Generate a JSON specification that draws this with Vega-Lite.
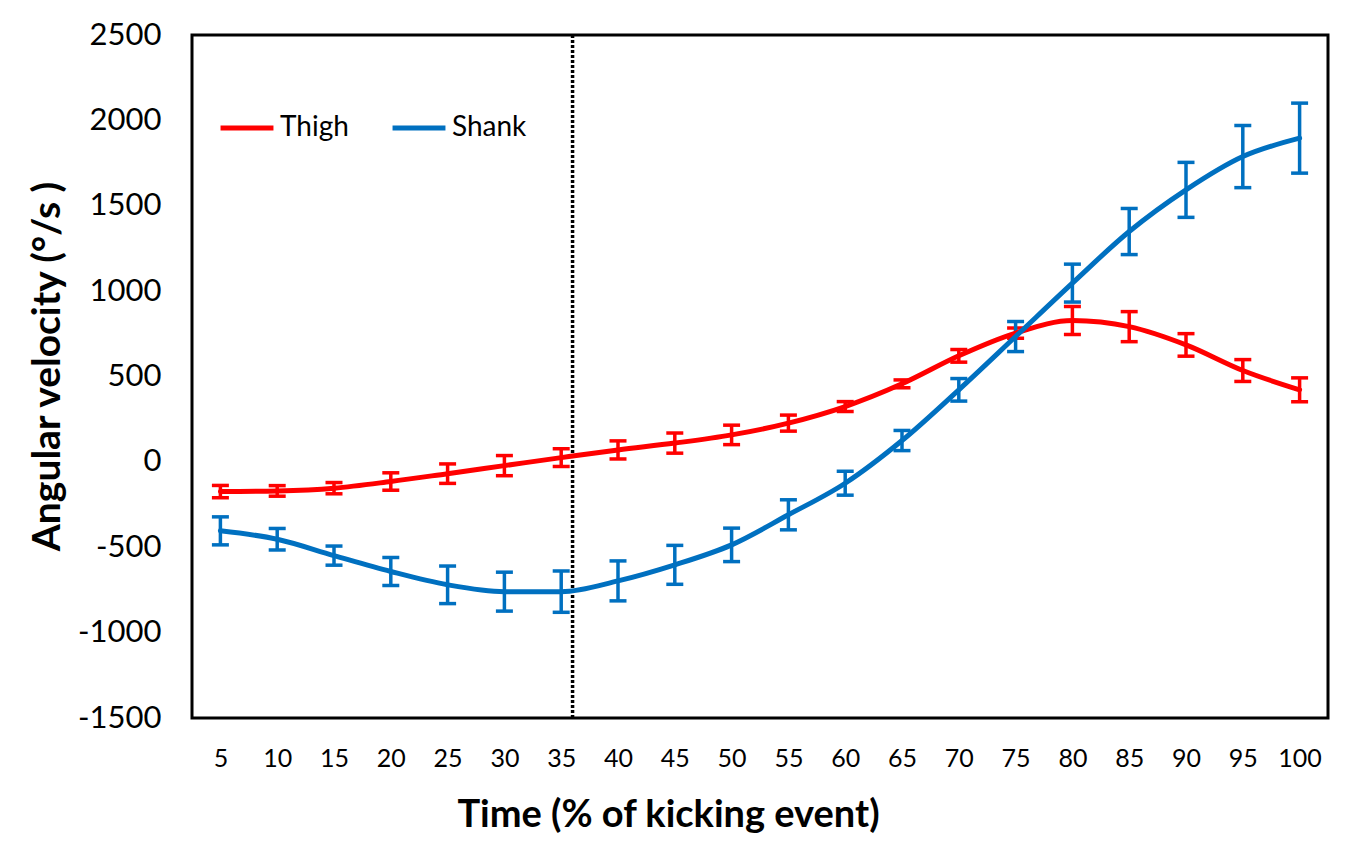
{
  "$schema": "https://vega.github.io/schema/vega-lite/v6.json",
  "width": 1136,
  "height": 683,
  "autosize": {"type": "none"},
  "padding": {"left": 192, "top": 35, "right": 21, "bottom": 129},
  "background": "white",
  "config": {
    "view": {"stroke": "black", "strokeWidth": 3},
    "font": "Lato"
  },
  "datasets": {
    "series": [
      {"time": 5, "segment": "Thigh", "velocity": -174, "sd": 36},
      {"time": 10, "segment": "Thigh", "velocity": -170, "sd": 31},
      {"time": 15, "segment": "Thigh", "velocity": -154, "sd": 33},
      {"time": 20, "segment": "Thigh", "velocity": -115, "sd": 51},
      {"time": 25, "segment": "Thigh", "velocity": -69, "sd": 57},
      {"time": 30, "segment": "Thigh", "velocity": -22, "sd": 59},
      {"time": 35, "segment": "Thigh", "velocity": 25, "sd": 52},
      {"time": 40, "segment": "Thigh", "velocity": 70, "sd": 53},
      {"time": 45, "segment": "Thigh", "velocity": 110, "sd": 59},
      {"time": 50, "segment": "Thigh", "velocity": 158, "sd": 57},
      {"time": 55, "segment": "Thigh", "velocity": 227, "sd": 47},
      {"time": 60, "segment": "Thigh", "velocity": 324, "sd": 29},
      {"time": 65, "segment": "Thigh", "velocity": 457, "sd": 23},
      {"time": 70, "segment": "Thigh", "velocity": 621, "sd": 37},
      {"time": 75, "segment": "Thigh", "velocity": 754, "sd": 30},
      {"time": 80, "segment": "Thigh", "velocity": 828, "sd": 82},
      {"time": 85, "segment": "Thigh", "velocity": 792, "sd": 88},
      {"time": 90, "segment": "Thigh", "velocity": 685, "sd": 66},
      {"time": 95, "segment": "Thigh", "velocity": 535, "sd": 64},
      {"time": 100, "segment": "Thigh", "velocity": 422, "sd": 70},
      {"time": 5, "segment": "Shank", "velocity": -404, "sd": 82},
      {"time": 10, "segment": "Shank", "velocity": -453, "sd": 63},
      {"time": 15, "segment": "Shank", "velocity": -549, "sd": 56},
      {"time": 20, "segment": "Shank", "velocity": -642, "sd": 82},
      {"time": 25, "segment": "Shank", "velocity": -720, "sd": 110},
      {"time": 30, "segment": "Shank", "velocity": -760, "sd": 114},
      {"time": 35, "segment": "Shank", "velocity": -760, "sd": 121},
      {"time": 40, "segment": "Shank", "velocity": -697, "sd": 117},
      {"time": 45, "segment": "Shank", "velocity": -603, "sd": 114},
      {"time": 50, "segment": "Shank", "velocity": -486, "sd": 98},
      {"time": 55, "segment": "Shank", "velocity": -310, "sd": 88},
      {"time": 60, "segment": "Shank", "velocity": -125, "sd": 70},
      {"time": 65, "segment": "Shank", "velocity": 125, "sd": 59},
      {"time": 70, "segment": "Shank", "velocity": 422, "sd": 66},
      {"time": 75, "segment": "Shank", "velocity": 734, "sd": 88},
      {"time": 80, "segment": "Shank", "velocity": 1047, "sd": 111},
      {"time": 85, "segment": "Shank", "velocity": 1349, "sd": 135},
      {"time": 90, "segment": "Shank", "velocity": 1593, "sd": 161},
      {"time": 95, "segment": "Shank", "velocity": 1788, "sd": 182},
      {"time": 100, "segment": "Shank", "velocity": 1896, "sd": 205}
    ],
    "marker": [{"time": 36}]
  },
  "encoding": {
    "x": {
      "field": "time",
      "type": "quantitative",
      "scale": {"domain": [2.5, 102.5], "nice": false, "zero": false},
      "axis": {
        "values": [5, 10, 15, 20, 25, 30, 35, 40, 45, 50, 55, 60, 65, 70, 75, 80, 85, 90, 95, 100],
        "grid": false,
        "ticks": false,
        "domain": false,
        "labelFont": "Lato",
        "labelFontSize": 25,
        "labelColor": "black",
        "labelPadding": 28,
        "labelFlush": false,
        "labelOverlap": false,
        "title": "Time (% of kicking event)",
        "titleFont": "Lato",
        "titleFontSize": 38,
        "titleFontWeight": "bold",
        "titleColor": "black",
        "titleX": 476,
        "titleY": 97,
        "titleAlign": "center",
        "titleBaseline": "middle"
      }
    }
  },
  "layer": [
    {
      "data": {"name": "marker"},
      "mark": {"type": "rule", "color": "black", "strokeWidth": 3.5, "strokeDash": [3, 2]},
      "encoding": {"x": {"field": "time", "type": "quantitative"}}
    },
    {
      "data": {"name": "series"},
      "mark": {
        "type": "errorbar",
        "opacity": 1,
        "thickness": 3.5,
        "rule": {"opacity": 1},
        "ticks": {"size": 17, "thickness": 3.5, "opacity": 1}
      },
      "encoding": {
        "y": {"field": "velocity", "type": "quantitative", "title": "Angular velocity (°/s )"},
        "yError": {"field": "sd"},
        "color": {"field": "segment", "type": "nominal"}
      }
    },
    {
      "data": {"name": "series"},
      "mark": {"type": "line", "interpolate": "monotone", "strokeWidth": 5, "strokeCap": "round"},
      "encoding": {
        "y": {
          "field": "velocity",
          "type": "quantitative",
          "title": "Angular velocity (°/s )",
          "scale": {"domain": [-1500, 2500], "nice": false},
          "axis": {
            "values": [-1500, -1000, -500, 0, 500, 1000, 1500, 2000, 2500],
            "labelExpr": "'' + datum.value",
            "grid": false,
            "ticks": false,
            "domain": false,
            "labelFont": "Lato",
            "labelFontSize": 31,
            "labelColor": "black",
            "labelPadding": 31,
            "labelFlush": false,
            "labelOverlap": false,
            "titleFont": "Lato",
            "titleFontSize": 39,
            "titleFontWeight": "bold",
            "titleColor": "black",
            "titleAngle": -90,
            "titleX": -145,
            "titleY": 331,
            "titleAlign": "center",
            "titleBaseline": "middle"
          }
        },
        "color": {
          "field": "segment",
          "type": "nominal",
          "scale": {"domain": ["Thigh", "Shank"], "range": ["#FF0000", "#0070C0"]},
          "legend": {
            "orient": "none",
            "legendX": 26,
            "legendY": 64,
            "direction": "horizontal",
            "title": null,
            "padding": 0,
            "symbolType": "stroke",
            "symbolSize": 2800,
            "symbolStrokeWidth": 5,
            "symbolOpacity": 1,
            "labelFont": "Lato",
            "labelFontSize": 28,
            "labelColor": "black",
            "labelOffset": 4,
            "columnPadding": 33
          }
        }
      }
    }
  ]
}
